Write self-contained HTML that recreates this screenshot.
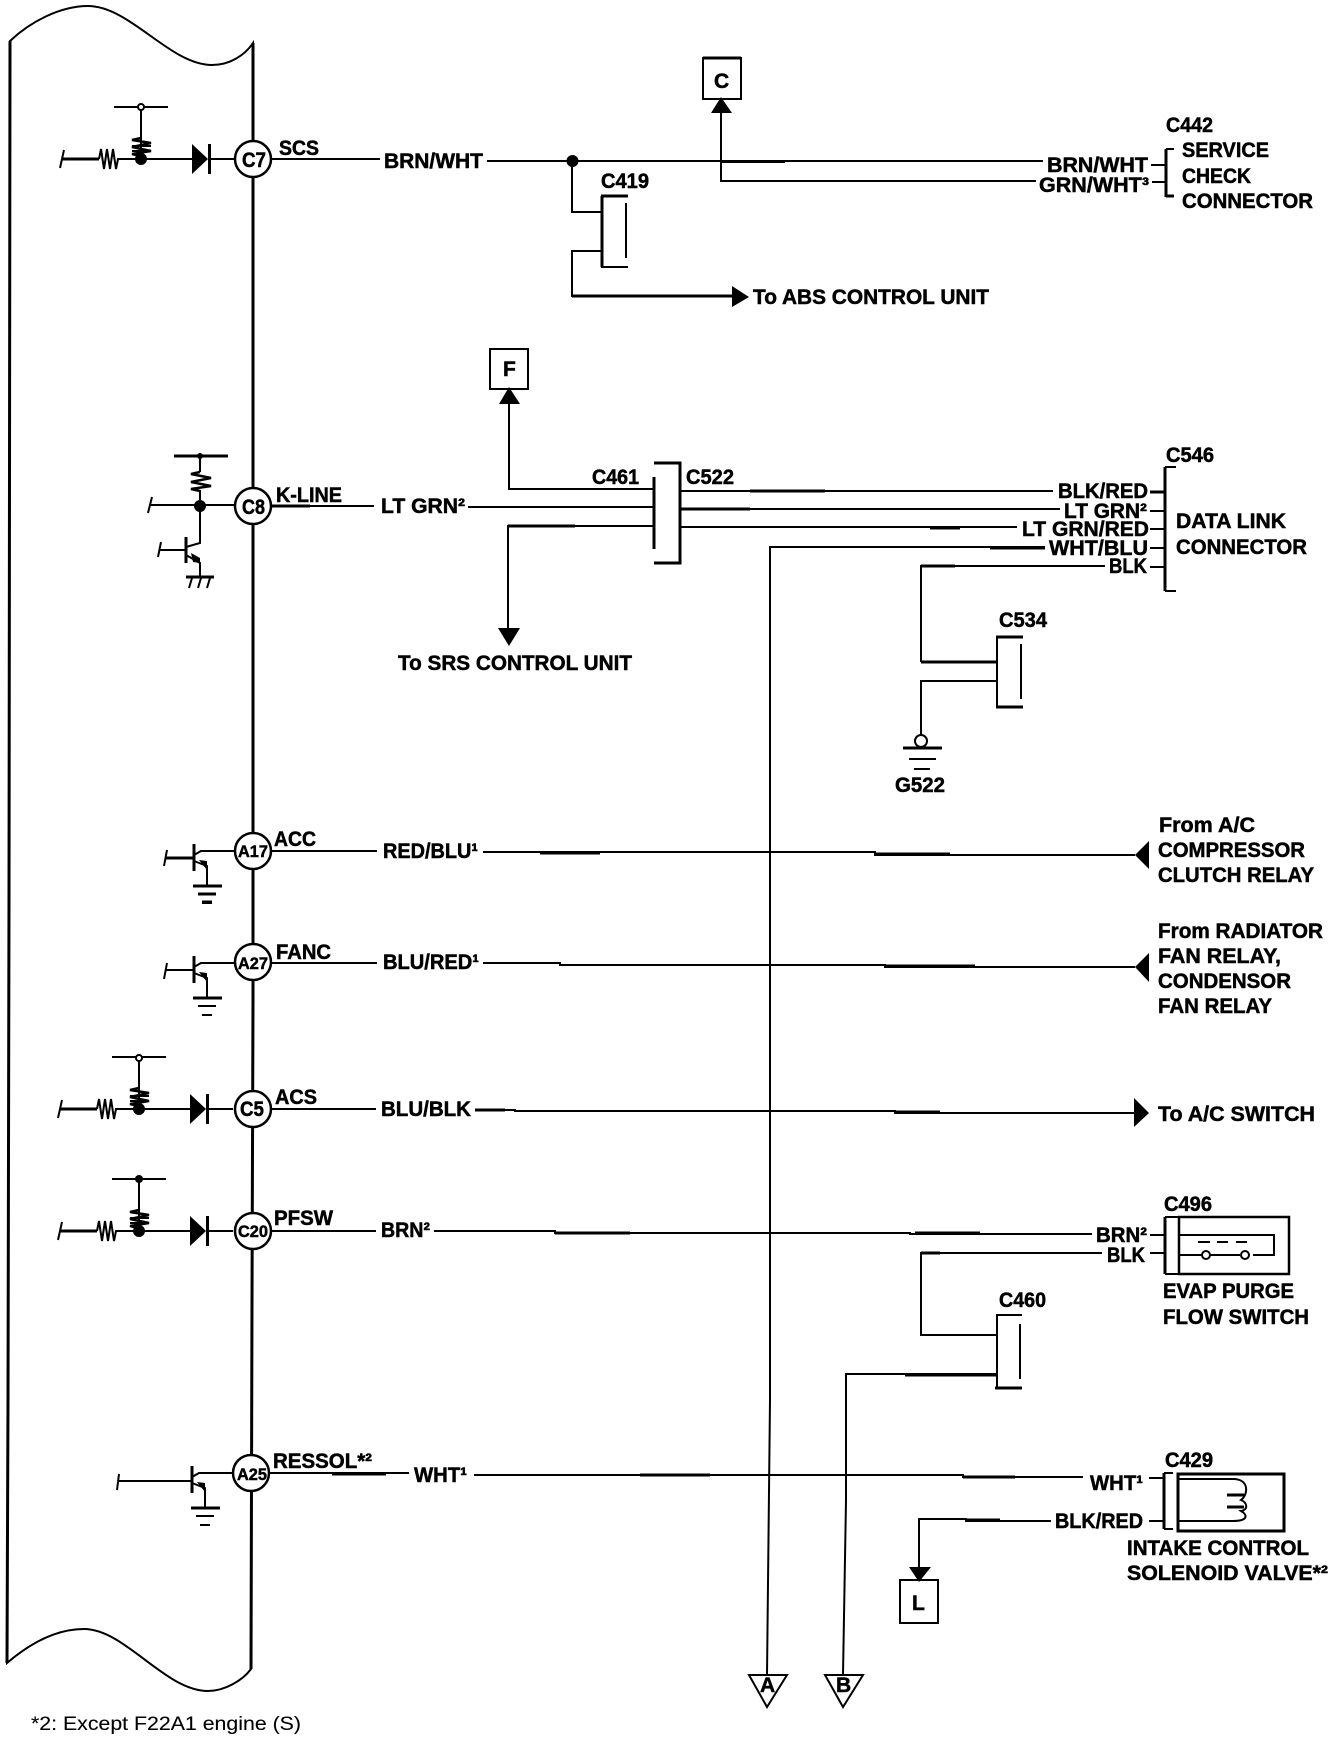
<!DOCTYPE html>
<html><head><meta charset="utf-8">
<style>
html,body{margin:0;padding:0;background:#fff}
svg{display:block}
text{font-family:"Liberation Sans",sans-serif;font-weight:bold;font-size:21px;fill:#000;stroke:#000;stroke-width:.5px}
.s{font-size:17px}
.n{font-weight:normal;font-size:19px;stroke-width:.1px}
.w{fill:none;stroke:#000;stroke-width:2}
.k{fill:none;stroke:#000;stroke-width:3}
.f{fill:#000;stroke:none}
</style></head><body>
<svg xmlns="http://www.w3.org/2000/svg" width="1344" height="1742" viewBox="0 0 1344 1742">
<rect width="1344" height="1742" fill="#fff"/>
<defs>
<g id="inp">
<path class="w" d="M-77,-9 L-81,9"/>
<path class="k" d="M-79,0 H-42"/>
<path class="w" d="M-42,0 L-40,-10 L-37,10 L-34,-10 L-31,10 L-28,-10 L-25,10 L-23,0 H51 M68,0 H94"/>
<path class="f" d="M51,-15 L67,0 L51,15 Z"/>
<path class="k" d="M68.500,-15 V15"/>
<circle class="f" cx="0" cy="0" r="6"/>
<path class="w" d="M0,0 V-52 M-27,-52 H27"/>
<path d="M0,-21 L-9,-19 L10,-16 L-9,-12 L10,-8 L-9,-5 L0,-3" fill="none" stroke="#000" stroke-width="2.500"/>
<path d="M-9,-13 H10 M-9,-8 H10" fill="none" stroke="#000" stroke-width="2"/>
</g>
<g id="tr">
<path class="k" d="M0,-7 V20"/>
<path class="w" d="M0,4 L7,0 H40 M0,10 L13,15 V35"/>
<path class="f" d="M5,9 L13,10 L13,19 Z"/>
<path class="k" d="M-1,35 H28"/>
<path class="w" d="M4,43 H22 M8,52 H18"/>
</g>
</defs>

<!-- body outline -->
<path d="M10,41 L9,900 L8,1400 L7,1663 C28,1645 55,1629 84,1629 C125,1629 165,1691 208,1691 C225,1691 243,1680 251,1669 L252,1300 L253,1000 L253,43 C245,55 230,65 212,65 C170,65 130,6 88,6 C60,6 30,22 10,41 Z" fill="none" stroke="#000" stroke-width="2"/>
<path class="k" d="M10,41 L9,900 L8,1400 L7,1663 M251,1669 L252,1300 L253,1000 L253,43"/>

<!-- input circuits -->
<use href="#inp" x="141" y="159"/>
<circle cx="141" cy="107" r="3" fill="#fff" stroke="#000" stroke-width="2"/>
<use href="#inp" x="139" y="1109"/>
<circle cx="139" cy="1058" r="3" fill="#fff" stroke="#000" stroke-width="2"/>
<use href="#inp" x="139" y="1231"/>
<circle class="f" cx="139" cy="1179" r="4"/>

<!-- K-LINE circuit -->
<path class="k" d="M174,456 H228"/>
<circle class="f" cx="200" cy="456" r="3"/>
<path class="w" d="M200,456 V472 M200,490 V543 L186,547 M148,513 L152,497 M150,505 H235 M159,550 H186 M161,542 L158,557 M186,555 L200,563 V577"/>
<path d="M200,472 L191,474 L211,478 L191,482 L211,486 L191,489 L200,491" fill="none" stroke="#000" stroke-width="2.500"/>
<circle class="f" cx="200" cy="506" r="6"/>
<path class="k" d="M186,537 V563 M186,577 H214"/>
<path class="f" d="M191,553 L200,558 L200,563 L193,562 Z"/>
<path class="w" d="M192,578 L189,588 M201,578 L198,588 M210,578 L207,588"/>

<!-- transistors -->
<use href="#tr" x="194" y="851"/>
<path class="w" d="M166,858 H193 M167,850 L164,866"/>
<path class="k" d="M166,858 H193 M198,894 H216 M202,902 H212"/>
<use href="#tr" x="194" y="963"/>
<path class="w" d="M166,970 H193 M167,963 L164,979"/>
<use href="#tr" x="192" y="1473"/>
<path class="w" d="M118,1481 H191 M119,1474 L117,1490"/>

<!-- SCS wires -->
<path class="w" d="M271,159 H380 M487,161 H720 H1043"/>
<path class="k" d="M720,161.500 H785"/>
<circle class="f" cx="572.500" cy="161" r="6"/>
<path class="w" d="M572,161 V212 H601 M601,251 H572 V296 H732"/>
<path class="k" d="M572,296 H732"/>
<path class="k" d="M602,196 V267"/>
<path class="k" d="M601,196 H628"/>
<path class="w" d="M601,267 H628 M626,203 V258"/>
<path class="f" d="M732,286 L749,297 L732,307 Z"/>

<!-- C box -->
<rect x="703" y="58" width="38" height="41" fill="#fff" stroke="#000" stroke-width="2"/>
<path class="k" d="M703,58 H741"/>
<path class="w" d="M721,110 V181 H1036"/>
<path class="f" d="M721,97 L732,113 L711,113 Z"/>
<path class="w" d="M1151,165 H1165 M1152,182 H1165"/>
<path class="k" d="M1166,149 V197"/>
<path class="w" d="M1166,149 H1174"/>
<path class="k" d="M1166,196 H1174"/>

<!-- F box, K-line wires -->
<rect x="490" y="349" width="38" height="40" fill="#fff" stroke="#000" stroke-width="2"/>
<path class="f" d="M509,387 L520,404 L499,404 Z"/>
<path class="w" d="M509,400 V489 H654 M271,506 H374 M468,507 H654 M654,526 H508 V630"/>
<path class="k" d="M271,506 H310 M508,526 H575"/>
<path class="f" d="M498,628 L520,628 L509,646 Z"/>
<path class="k" d="M654,477 V549 M654,463 H680 V563 H654"/>
<path class="w" d="M680,491 H1053 M680,509 H1060 M680,527 H1017 M1045,547 H770 V1400 L767,1675 M1105,566 H921 V662"/>
<path class="k" d="M750,491 H825 M680,509 H750 M930,528 H960 M990,548 H1045 M921,566 H955"/>
<path class="k" d="M921,662 H996"/>
<path class="w" d="M996,681 H921 V735"/>
<path class="k" d="M1150,492 H1165"/>
<path class="w" d="M1150,511 H1165 M1150,529 H1165 M1150,548 H1165 M1150,567 H1165 M1165,467 H1176 M1165,591 H1176"/>
<path class="k" d="M1165,467 V591"/>

<!-- C534 -->
<path class="w" d="M997,636 V708"/>
<path class="k" d="M996,637 H1023 M996,707 H1023"/>
<path class="w" d="M1021,644 V699"/>
<ellipse cx="921" cy="741" rx="6" ry="6" fill="#fff" stroke="#000" stroke-width="2"/>
<path class="k" d="M903,748 H942"/>
<path class="w" d="M909,759 H936 M914,769 H930"/>

<!-- ACC / FANC / ACS / PFSW wires -->
<path class="w" d="M271,851 H377 M483,852 H875 V855 H1135"/>
<path class="k" d="M540,853 H600 M875,854 H950"/>
<path class="f" d="M1149,841 L1135,855 L1149,869 Z"/>
<path class="w" d="M271,963 H377 M483,963 H560 V965 H885 V967 H1135"/>
<path class="k" d="M885,966 H975"/>
<path class="f" d="M1149,953 L1135,967 L1149,982 Z"/>
<path class="w" d="M271,1109 H376 M475,1110 H515 V1111 H895 V1113 H1135"/>
<path class="k" d="M475,1110 H505 M895,1112 H940"/>
<path class="f" d="M1134,1098 L1149,1113 L1134,1127 Z"/>
<path class="w" d="M271,1231 H376 M434,1231 H555 V1233 H910 V1234 H1092"/>
<path class="k" d="M555,1233 H630 M915,1233 H980"/>
<path class="w" d="M1150,1235 H1164 M1150,1253 H1164"/>

<!-- C496 switch -->
<path class="k" d="M1165,1217 V1274"/>
<rect x="1179" y="1217" width="110" height="57" fill="none" stroke="#000" stroke-width="2.500"/>
<path class="w" d="M1165,1217 H1179 M1165,1274 H1179 M1179,1235 H1274 V1255 H1253 M1179,1255 H1240"/>
<circle cx="1206" cy="1255" r="4" fill="#fff" stroke="#000" stroke-width="2"/>
<circle cx="1245" cy="1255" r="4" fill="#fff" stroke="#000" stroke-width="2"/>
<path class="w" d="M1198,1242 H1210 M1217,1242 H1228 M1236,1242 H1247"/>

<!-- BLK to C460 -->
<path class="w" d="M1102,1253 H921 V1335 H996 M996,1374 H846 V1500 L843,1675"/>
<path class="k" d="M921,1253 H940 M905,1375 H996"/>
<path class="w" d="M997,1315 V1388 M996,1315 H1022 M1020,1324 V1379"/>
<path class="k" d="M995,1388 H1022"/>

<!-- RESSOL wire -->
<path class="w" d="M269,1473 H409 M474,1475 H963 V1477 H1083"/>
<path class="k" d="M332,1474 H386 M640,1475 H710 M963,1477 H1015"/>
<path class="w" d="M1149,1478 H1163 M1149,1521 H1163 M1051,1521 H966 V1519 H919 V1570"/>
<path class="k" d="M966,1520 H1000"/>
<path class="f" d="M909,1567 L931,1567 L919,1582 Z"/>
<rect x="900" y="1580" width="38" height="43" fill="none" stroke="#000" stroke-width="2"/>

<!-- C429 -->
<path class="k" d="M1164,1473 V1529"/>
<path class="w" d="M1164,1473 H1173 M1164,1529 H1173"/>
<rect x="1178" y="1474" width="106" height="57" fill="none" stroke="#000" stroke-width="3"/>
<path class="w" d="M1178,1479 H1233 C1250,1479 1248,1495 1241,1500 C1248,1503 1248,1510 1241,1511 C1248,1515 1248,1521 1233,1521 H1178"/>
<path class="k" d="M1227,1495 H1244 M1227,1507 H1244"/>

<!-- Triangles -->
<path d="M749,1675 H787 L767,1707 Z" fill="none" stroke="#000" stroke-width="2"/>
<path d="M825,1675 H863 L843,1707 Z" fill="none" stroke="#000" stroke-width="2"/>

<!-- circles -->
<g fill="#fff" stroke="#000" stroke-width="2.500">
<circle cx="253" cy="159" r="18"/>
<circle cx="253" cy="506" r="18"/>
<circle cx="253" cy="851" r="18"/>
<circle cx="253" cy="962" r="18"/>
<circle cx="253" cy="1109" r="18"/>
<circle cx="253" cy="1231" r="18"/>
<circle cx="251" cy="1473" r="18"/>
</g>
<text x="242" y="167" textLength="24" lengthAdjust="spacingAndGlyphs">C7</text>
<text x="242" y="514" textLength="23" lengthAdjust="spacingAndGlyphs">C8</text>
<text x="240" y="1116" textLength="24" lengthAdjust="spacingAndGlyphs">C5</text>
<text class="s" x="238" y="857" textLength="30" lengthAdjust="spacingAndGlyphs">A17</text>
<text class="s" x="238" y="969" textLength="30" lengthAdjust="spacingAndGlyphs">A27</text>
<text class="s" x="238" y="1237" textLength="30" lengthAdjust="spacingAndGlyphs">C20</text>
<text class="s" x="237" y="1480" textLength="30" lengthAdjust="spacingAndGlyphs">A25</text>

<!-- labels -->
<text x="279" y="155" textLength="40" lengthAdjust="spacingAndGlyphs">SCS</text>
<text x="384" y="168" textLength="99" lengthAdjust="spacingAndGlyphs">BRN/WHT</text>
<text x="601" y="188" textLength="48" lengthAdjust="spacingAndGlyphs">C419</text>
<text x="503" y="376">F</text>
<text x="714" y="88">C</text>
<text x="1047" y="172" textLength="101" lengthAdjust="spacingAndGlyphs">BRN/WHT</text>
<text x="1039" y="192" textLength="110" lengthAdjust="spacingAndGlyphs">GRN/WHT³</text>
<text x="1166" y="132" textLength="47" lengthAdjust="spacingAndGlyphs">C442</text>
<text x="1182" y="157" textLength="87" lengthAdjust="spacingAndGlyphs">SERVICE</text>
<text x="1182" y="183" textLength="69" lengthAdjust="spacingAndGlyphs">CHECK</text>
<text x="1182" y="208" textLength="131" lengthAdjust="spacingAndGlyphs">CONNECTOR</text>
<text x="753" y="304" textLength="236" lengthAdjust="spacingAndGlyphs">To ABS CONTROL UNIT</text>
<text x="276" y="502" textLength="66" lengthAdjust="spacingAndGlyphs">K-LINE</text>
<text x="381" y="513" textLength="84" lengthAdjust="spacingAndGlyphs">LT GRN²</text>
<text x="592" y="484" textLength="47" lengthAdjust="spacingAndGlyphs">C461</text>
<text x="686" y="484" textLength="48" lengthAdjust="spacingAndGlyphs">C522</text>
<text x="398" y="670" textLength="234" lengthAdjust="spacingAndGlyphs">To SRS CONTROL UNIT</text>
<text x="1058" y="498" textLength="90" lengthAdjust="spacingAndGlyphs">BLK/RED</text>
<text x="1064" y="518" textLength="83" lengthAdjust="spacingAndGlyphs">LT GRN²</text>
<text x="1022" y="536" textLength="127" lengthAdjust="spacingAndGlyphs">LT GRN/RED</text>
<text x="1049" y="555" textLength="99" lengthAdjust="spacingAndGlyphs">WHT/BLU</text>
<text x="1109" y="573" textLength="38" lengthAdjust="spacingAndGlyphs">BLK</text>
<text x="1166" y="462" textLength="48" lengthAdjust="spacingAndGlyphs">C546</text>
<text x="1176" y="528" textLength="110" lengthAdjust="spacingAndGlyphs">DATA LINK</text>
<text x="1176" y="554" textLength="131" lengthAdjust="spacingAndGlyphs">CONNECTOR</text>
<text x="999" y="627" textLength="48" lengthAdjust="spacingAndGlyphs">C534</text>
<text x="895" y="792" textLength="50" lengthAdjust="spacingAndGlyphs">G522</text>
<text x="274" y="846" textLength="42" lengthAdjust="spacingAndGlyphs">ACC</text>
<text x="383" y="858" textLength="95" lengthAdjust="spacingAndGlyphs">RED/BLU¹</text>
<text x="1159" y="832" textLength="96" lengthAdjust="spacingAndGlyphs">From A/C</text>
<text x="1158" y="857" textLength="147" lengthAdjust="spacingAndGlyphs">COMPRESSOR</text>
<text x="1158" y="882" textLength="156" lengthAdjust="spacingAndGlyphs">CLUTCH RELAY</text>
<text x="276" y="959" textLength="55" lengthAdjust="spacingAndGlyphs">FANC</text>
<text x="383" y="969" textLength="96" lengthAdjust="spacingAndGlyphs">BLU/RED¹</text>
<text x="1158" y="938" textLength="165" lengthAdjust="spacingAndGlyphs">From RADIATOR</text>
<text x="1158" y="963" textLength="123" lengthAdjust="spacingAndGlyphs">FAN RELAY,</text>
<text x="1158" y="988" textLength="133" lengthAdjust="spacingAndGlyphs">CONDENSOR</text>
<text x="1158" y="1013" textLength="114" lengthAdjust="spacingAndGlyphs">FAN RELAY</text>
<text x="275" y="1104" textLength="42" lengthAdjust="spacingAndGlyphs">ACS</text>
<text x="381" y="1116" textLength="90" lengthAdjust="spacingAndGlyphs">BLU/BLK</text>
<text x="1158" y="1121" textLength="157" lengthAdjust="spacingAndGlyphs">To A/C SWITCH</text>
<text x="274" y="1225" textLength="59" lengthAdjust="spacingAndGlyphs">PFSW</text>
<text x="381" y="1237" textLength="49" lengthAdjust="spacingAndGlyphs">BRN²</text>
<text x="1096" y="1242" textLength="51" lengthAdjust="spacingAndGlyphs">BRN²</text>
<text x="1107" y="1262" textLength="38" lengthAdjust="spacingAndGlyphs">BLK</text>
<text x="1164" y="1211" textLength="48" lengthAdjust="spacingAndGlyphs">C496</text>
<text x="1163" y="1298" textLength="131" lengthAdjust="spacingAndGlyphs">EVAP PURGE</text>
<text x="1163" y="1324" textLength="146" lengthAdjust="spacingAndGlyphs">FLOW SWITCH</text>
<text x="999" y="1307" textLength="47" lengthAdjust="spacingAndGlyphs">C460</text>
<text x="273" y="1468" textLength="99" lengthAdjust="spacingAndGlyphs">RESSOL*²</text>
<text x="414" y="1482" textLength="53" lengthAdjust="spacingAndGlyphs">WHT¹</text>
<text x="1090" y="1490" textLength="53" lengthAdjust="spacingAndGlyphs">WHT¹</text>
<text x="1055" y="1528" textLength="88" lengthAdjust="spacingAndGlyphs">BLK/RED</text>
<text x="1165" y="1467" textLength="48" lengthAdjust="spacingAndGlyphs">C429</text>
<text x="1127" y="1555" textLength="182" lengthAdjust="spacingAndGlyphs">INTAKE CONTROL</text>
<text x="1127" y="1580" textLength="201" lengthAdjust="spacingAndGlyphs">SOLENOID VALVE*²</text>
<text x="912" y="1610">L</text>
<text x="760" y="1692">A</text>
<text x="836" y="1692">B</text>
<text class="n" x="31" y="1730" textLength="270" lengthAdjust="spacingAndGlyphs">*2: Except F22A1 engine (S)</text>
</svg>
</body></html>
